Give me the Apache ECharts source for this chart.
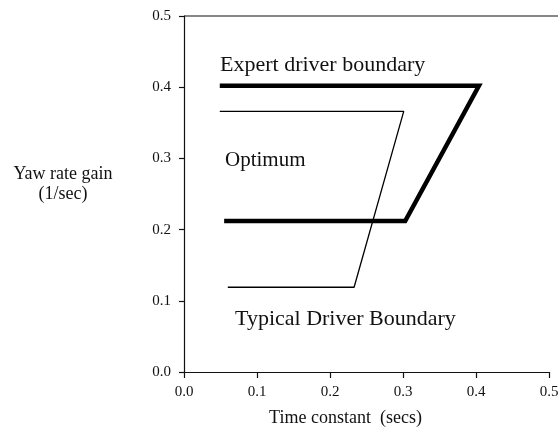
<!DOCTYPE html>
<html>
<head>
<meta charset="utf-8">
<script src="https://cdn.jsdelivr.net/npm/echarts@6/dist/echarts.min.js"></script>
<style>
html, body { margin: 0; padding: 0; background: #fff; }
#chart { width: 558px; height: 430px; }
</style>
</head>
<body>
<div id="chart"></div>
<script>
// boundary corners: [time constant, yaw rate gain]
var expert_x = [0.049, 0.404, 0.303, 0.055]
var expert_y = [0.402, 0.402, 0.212, 0.212]
var typical_x = [0.049, 0.301, 0.233, 0.060]
var typical_y = [0.366, 0.366, 0.119, 0.119]
var tick_labels = ['0.0', '0.1', '0.2', '0.3', '0.4', '0.5']

var serif = 'Liberation Serif'

function pairs(xs, ys) {
    var out = []
    for (var i = 0; i < xs.length; i++) {
        out.push([xs[i], ys[i]])
    }
    return out
}

var axis_common = {
    type: 'value',
    min: 0,
    max: 0.5,
    interval: 0.1,
    splitLine: { show: false },
    axisLine: { show: true, lineStyle: { color: '#111', width: 1.2 } },
    axisTick: { show: true, inside: false, length: 5, lineStyle: { color: '#111', width: 1.2 } },
    axisLabel: {
        color: '#111',
        fontFamily: serif,
        fontSize: 15,
        formatter: function (v) { return tick_labels[Math.round(v * 10)] }
    }
}

var option = {
    animation: false,
    backgroundColor: '#fff',
    grid: { left: 184, right: 9, top: 16, bottom: 58, outerBoundsMode: 'none', containLabel: false },
    xAxis: Object.assign({}, axis_common, {
        axisTick: { show: true, length: 6, lineStyle: { color: '#111', width: 1.2 } },
        axisLabel: Object.assign({}, axis_common.axisLabel, { margin: 13 }),
        name: 'Time constant  (secs)',
        nameLocation: 'middle',
        nameGap: 37,
        nameTextStyle: { color: '#111', fontFamily: serif, fontSize: 18, padding: [0, 42, 0, 0] }
    }),
    yAxis: Object.assign({}, axis_common, {
        axisLabel: Object.assign({}, axis_common.axisLabel, { margin: 13 })
    }),
    series: [
        {
            name: 'Expert driver boundary',
            type: 'line',
            data: pairs(expert_x, expert_y),
            showSymbol: false,
            lineStyle: { color: '#000', width: 4.5, join: 'miter' }
        },
        {
            name: 'Typical Driver Boundary',
            type: 'line',
            data: pairs(typical_x, typical_y),
            showSymbol: false,
            lineStyle: { color: '#000', width: 1.3 }
        }
    ],
    graphic: [
        {
            type: 'line',
            shape: { x1: 184, y1: 16, x2: 558, y2: 16 },
            style: { stroke: '#111', lineWidth: 1.2 }
        },
        {
            type: 'text', left: 220, top: 54,
            style: { text: 'Expert driver boundary', font: '22px "Liberation Serif"', fill: '#111' }
        },
        {
            type: 'text', left: 225, top: 150,
            style: { text: 'Optimum', font: '21px "Liberation Serif"', fill: '#111' }
        },
        {
            type: 'text', left: 235, top: 308,
            style: { text: 'Typical Driver Boundary', font: '22px "Liberation Serif"', fill: '#111' }
        },
        {
            type: 'text', x: 63, y: 184,
            style: {
                text: 'Yaw rate gain\n(1/sec)', font: '18px "Liberation Serif"', fill: '#111',
                align: 'center', verticalAlign: 'middle', lineHeight: 20
            }
        }
    ]
}

var myChart = echarts.init(document.getElementById('chart'))
myChart.setOption(option, true)
</script>
</body>
</html>
